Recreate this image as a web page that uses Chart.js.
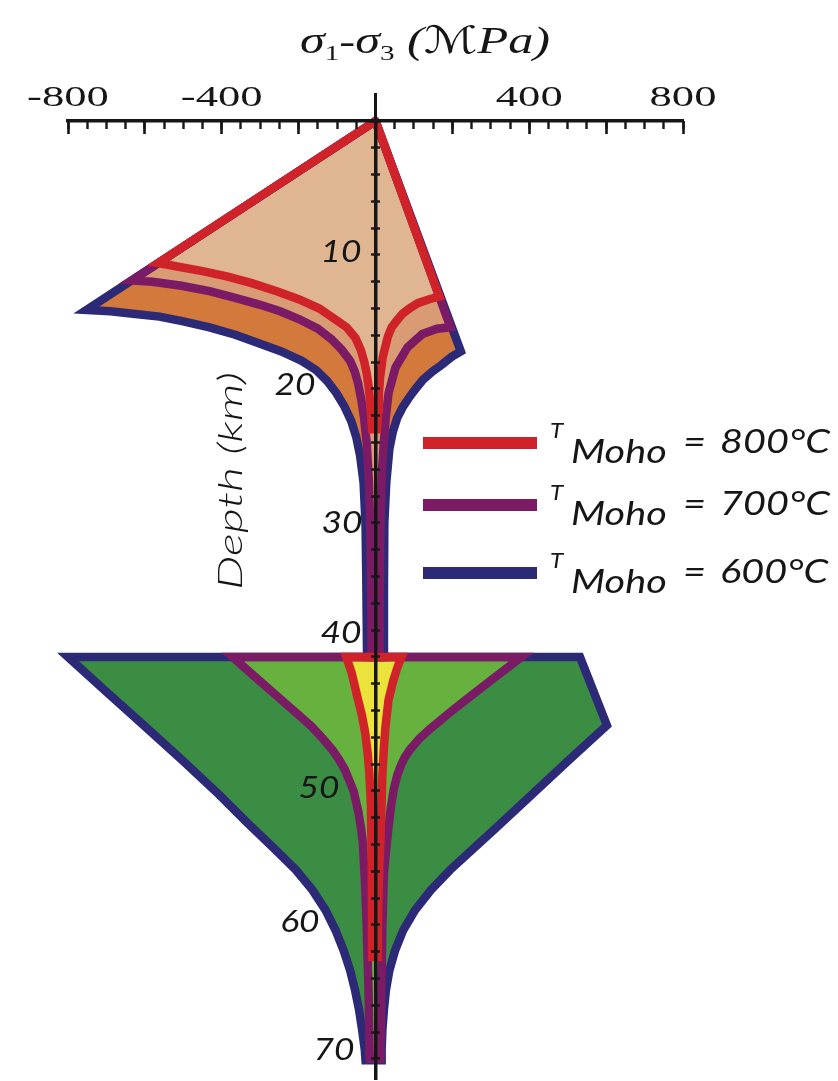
<!DOCTYPE html>
<html lang="en">
<head>
<meta charset="utf-8">
<title>Strength envelopes</title>
<script src="https://cdn.jsdelivr.net/npm/chart.js@4.4.1/dist/chart.umd.min.js"></script>
<style>
  html, body { margin: 0; padding: 0; background: #ffffff; }
  #wrap { width: 838px; height: 1081px; position: relative; }
  canvas { display: block; }
</style>
</head>
<body>
<div id="wrap"><canvas id="envelopes" width="838" height="1081"></canvas></div>
<script>
// Moho temperatures, one envelope set each (hottest first)
const mohoTemps = [800, 700, 600];
const lineColors = ['#cf2329', '#7b1b66', '#2c2a76'];
const upperFill = ['#e0b592', '#d99b73', '#d2793b'];
const lowerFill = ['#ebe33b', '#67b23f', '#3b8d44'];

// Envelope outlines: depth (km) and differential stress (MPa), traced down the
// compressional side and back up the extensional side.
const upper800Depth  = [0, 10.6, 10.9, 11.2, 11.6, 12.1, 12.7, 13.3, 14.0, 14.7, 15.4, 16.2, 17.1, 18.0, 18.8, 20.0, 21.3, 23.0,
                        23.0, 21.5, 20.3, 19.1, 17.6, 16.8, 16.1, 15.4, 14.9, 14.4, 14.0, 13.6, 13.3, 13.1, 0];
const upper800Stress = [0, -565, -509, -450, -387, -322, -257, -200, -146, -110, -75, -52, -38, -29, -23, -17, -13, -9,
                        4, 7, 9, 12, 19, 26, 32, 42, 55, 70, 88, 110, 140, 166, 0];

const upper700Depth  = [0, 11.9, 12.0, 12.3, 12.7, 13.2, 13.7, 14.2, 14.8, 15.5, 16.3, 17.1, 17.9, 18.7, 19.6, 20.8, 22.1, 24.0, 27.0, 31.0, 35.0, 40.0,
                        40.0, 35.0, 30.0, 26.0, 24.3, 22.3, 20.3, 18.4, 16.9, 15.9, 15.5, 15.4, 0];
const upper700Stress = [0, -634, -580, -505, -432, -365, -302, -248, -198, -150, -114, -87, -66, -54, -45, -37, -30, -23, -17, -13, -11, -10,
                        10, 11, 13, 17, 21, 26, 34, 52, 83, 122, 160, 195, 0];

const upper600Depth  = [0, 14.1, 14.2, 14.4, 14.6, 14.95, 15.4, 15.95, 16.6, 17.2, 17.9, 18.6, 19.4, 20.3, 21.3, 22.4, 23.6, 25.0, 27.0, 30.0, 34.0, 40.0,
                        40.0, 35.0, 30.0, 27.0, 24.5, 23.2, 22.2, 21.4, 20.7, 20.0, 19.3, 18.7, 18.2, 17.6, 17.2, 0];
const upper600Stress = [0, -752, -690, -625, -562, -500, -432, -365, -302, -245, -192, -154, -126, -102, -81, -63, -50, -40, -31, -26, -24, -22,
                        22, 22, 23, 28, 36, 45, 56, 70, 86, 104, 124, 148, 172, 198, 222, 0];

const lower800Depth  = [40, 40, 41.2, 43.0, 44.4, 45.8, 47.3, 48.7, 51.0, 55.0, 59.0, 62.4,
                        62.4, 60.0, 57.4, 55.5, 53.7, 48.7, 46.7, 45.2, 43.2, 41.7, 40.7, 40, 40];
const lower800Stress = [0, -76, -62, -47, -35, -26, -20, -16, -12, -10, -9, -9,
                        4, 6, 8, 10, 13, 18, 22, 26, 34, 47, 58, 68, 0];

const lower700Depth  = [40, 40, 41.5, 43.0, 44.1, 45.2, 46.0, 46.9, 47.6, 48.4, 50.0, 51.5, 52.7, 53.9, 56.4, 60.0, 65.0, 70.0,
                        70.0, 65.0, 60.0, 56.1, 53.7, 51.2, 49.8, 48.8, 48.1, 47.5, 46.9, 46.1, 45.4, 44.2, 43.2, 41.6, 40, 40];
const lower700Stress = [0, -372, -313, -253, -209, -166, -140, -113, -96, -80, -57, -45, -38, -33, -28, -23, -18, -15,
                        13, 15, 18, 22, 30, 40, 48, 57, 66, 76, 90, 114, 141, 191, 235, 307, 380, 0];

const lower600Depth  = [40, 40, 42.6, 45.1, 47.7, 50.3, 52.4, 54.4, 55.9, 57.4, 58.9, 60.4, 61.9, 63.4, 64.9, 66.3, 67.8, 69.3, 70.1,
                        70.1, 69.3, 67.8, 66.3, 64.9, 63.4, 61.9, 60.4, 58.9, 57.4, 55.9, 54.4, 52.9, 50.3, 47.7, 45.1, 40, 40];
const lower600Stress = [0, -800, -700, -603, -503, -406, -333, -260, -207, -164, -130, -104, -83, -66, -53, -43, -35, -28, -26,
                        16, 16, 18, 22, 27, 36, 51, 72, 103, 144, 194, 251, 308, 406, 503, 602, 532, 0];

// Axis ranges and labelled ticks
const STRESS_MIN = -800, STRESS_MAX = 800;
const DEPTH_MIN = 0, DEPTH_MAX = 71.5;
const stressLabels = [-800, -400, 400, 800];
const depthLabels = [10, 20, 30, 40, 50, 60, 70];

// Placement of the text around the plot
const depthLabelNudge = { // [right edge relative to the depth axis, vertical shift]
  10: [-14, -3], 20: [-60, -4], 30: [-13, 0], 40: [-14, -24], 50: [-36, -3], 60: [-56, -3], 70: [-21, -9]
};
const legendRowY = [443, 505, 573];

function outline(depths, stresses) {
  return depths.map((d, i) => ({ x: stresses[i], y: d }));
}

function envelope(label, depths, stresses, colorIndex, fillColor) {
  return {
    label: label,
    data: outline(depths, stresses),
    borderColor: lineColors[colorIndex],
    backgroundColor: fillColor,
    borderWidth: 8.5,
    fill: 'shape',
    pointRadius: 0,
    pointHoverRadius: 0,
    tension: 0,
    borderJoinStyle: 'miter',
    borderCapStyle: 'round',
    clip: false
  };
}

// Hottest envelope first so it is painted on top
const datasets = [
  envelope('800 upper', upper800Depth, upper800Stress, 0, upperFill[0]),
  envelope('800 lower', lower800Depth, lower800Stress, 0, lowerFill[0]),
  envelope('700 upper', upper700Depth, upper700Stress, 1, upperFill[1]),
  envelope('700 lower', lower700Depth, lower700Stress, 1, lowerFill[1]),
  envelope('600 upper', upper600Depth, upper600Stress, 2, upperFill[2]),
  envelope('600 lower', lower600Depth, lower600Stress, 2, lowerFill[2])
];

const INK = '#161616';
const SERIF = "'Liberation Serif', 'DejaVu Serif', 'DejaVu Sans', serif";
const HAND = "Lato, 'Open Sans', 'DejaVu Sans', sans-serif";

function scaleFor(ctx, sample, font, width) {
  ctx.save();
  ctx.font = font;
  const w = ctx.measureText(sample).width;
  ctx.restore();
  return w > 0 ? width / w : 1;
}

function drawStretched(ctx, text, x, y, font, sx, align, baseline) {
  ctx.save();
  ctx.font = font;
  ctx.textAlign = align;
  ctx.textBaseline = baseline;
  ctx.translate(x, y);
  ctx.scale(sx, 1);
  ctx.fillText(text, 0, 0);
  ctx.restore();
}

const annotations = {
  id: 'annotations',
  afterDraw(chart) {
    const ctx = chart.ctx;
    const xs = chart.scales.x;
    const ys = chart.scales.y;
    const x0 = xs.getPixelForValue(0);
    const yTop = ys.getPixelForValue(DEPTH_MIN);

    ctx.save();
    ctx.fillStyle = INK;

    // depth axis continues a little above the stress axis
    ctx.strokeStyle = INK;
    ctx.lineWidth = 3;
    ctx.beginPath();
    ctx.moveTo(x0, yTop);
    ctx.lineTo(x0, yTop - 28);
    ctx.stroke();

    // title
    const titleRuns = [
      { text: 'σ', font: 'italic 38px ' + SERIF, dy: 0 },
      { text: '1', font: '22px ' + SERIF, dy: 7 },
      { text: '-', font: '36px ' + SERIF, dy: 0 },
      { text: 'σ', font: 'italic 38px ' + SERIF, dy: 0 },
      { text: '3', font: '22px ' + SERIF, dy: 7 },
      { text: ' (ℳPa)', font: 'italic 38px ' + SERIF, dy: 0 }
    ];
    let raw = 0;
    titleRuns.forEach(r => { ctx.font = r.font; r.w = ctx.measureText(r.text).width; raw += r.w; });
    const tsx = 250 / raw;
    let tx = 425 - 125;
    titleRuns.forEach(r => {
      drawStretched(ctx, r.text, tx, 53 + r.dy, r.font, tsx, 'left', 'alphabetic');
      tx += r.w * tsx;
    });

    // stress tick labels
    const sFont = '29px ' + SERIF;
    const ssx = scaleFor(ctx, '800', sFont, 67);
    stressLabels.forEach(v => {
      drawStretched(ctx, String(v), xs.getPixelForValue(v), 106, sFont, ssx, 'center', 'alphabetic');
    });

    // depth tick labels
    const dFont = 'italic 31px ' + HAND;
    const dsx = scaleFor(ctx, '30', dFont, 41);
    depthLabels.forEach(v => {
      const n = depthLabelNudge[v] || [-14, 0];
      drawStretched(ctx, String(v), x0 + n[0], ys.getPixelForValue(v) + n[1], dFont, dsx, 'right', 'middle');
    });

    // depth axis title
    const aFont = 'italic 300 34px ' + HAND;
    const asx = scaleFor(ctx, 'Depth (km)', aFont, 218);
    ctx.save();
    ctx.translate(231, 481);
    ctx.rotate(-Math.PI / 2);
    drawStretched(ctx, 'Depth (km)', 0, 0, aFont, asx, 'center', 'middle');
    ctx.restore();

    // legend
    const lFont = 'italic 33px ' + HAND;
    const lsx = scaleFor(ctx, '800°C', lFont, 110);
    mohoTemps.forEach((t, i) => {
      const yRow = legendRowY[i];
      ctx.save();
      ctx.fillStyle = lineColors[i];
      ctx.fillRect(423, yRow - 6, 114, 12);
      ctx.restore();
      drawStretched(ctx, 'T', 550, yRow - 5, 'italic 22px ' + HAND, 1.1, 'left', 'alphabetic');
      drawStretched(ctx, 'Moho', 571, yRow + 20, lFont, lsx, 'left', 'alphabetic');
      drawStretched(ctx, '=', 683, yRow + 10, lFont, lsx, 'left', 'alphabetic');
      drawStretched(ctx, t + '°C', 720, yRow + 10, lFont, lsx, 'left', 'alphabetic');
    });

    ctx.restore();
  }
};

function axisBase(extra) {
  return Object.assign({ type: 'linear', display: true }, extra);
}

function build() {
  const ctx = document.getElementById('envelopes').getContext('2d');
  new Chart(ctx, {
    type: 'line',
    data: { datasets: datasets },
    plugins: [annotations],
    options: {
      responsive: false,
      animation: false,
      devicePixelRatio: 1,
      events: [],
      layout: { padding: { left: 68, right: 155, top: 121, bottom: 2 } },
      plugins: {
        legend: { display: false },
        tooltip: { enabled: false },
        title: { display: false },
        filler: { drawTime: 'beforeDatasetsDraw', propagate: false }
      },
      scales: {
        x: axisBase({
          min: STRESS_MIN, max: STRESS_MAX, position: { y: 0 },
          border: { display: true, width: 3.5, color: INK, z: 1 },
          grid: { display: true, drawOnChartArea: false, drawTicks: false, z: 1 },
          ticks: { display: false, stepSize: 400 }
        }),
        xMinor: axisBase({
          axis: 'x', min: STRESS_MIN, max: STRESS_MAX, position: { y: 0 },
          border: { display: false },
          grid: { display: true, drawOnChartArea: false, drawTicks: true, tickLength: 8, tickWidth: 2.4, tickColor: INK, z: 1 },
          ticks: { display: false, stepSize: 50 }
        }),
        xMajor: axisBase({
          axis: 'x', min: STRESS_MIN, max: STRESS_MAX, position: { y: 0 },
          border: { display: false },
          grid: { display: true, drawOnChartArea: false, drawTicks: true, tickLength: 13, tickWidth: 2.6, tickColor: INK, z: 1 },
          ticks: { display: false, stepSize: 200 }
        }),
        y: axisBase({
          reverse: true, min: DEPTH_MIN, max: DEPTH_MAX, position: { x: 0 },
          border: { display: true, width: 3.5, color: INK, z: 1 },
          grid: { display: true, drawOnChartArea: false, drawTicks: false, z: 1 },
          ticks: { display: false, stepSize: 10, includeBounds: false }
        }),
        yTicks: axisBase({
          axis: 'y', reverse: true, min: DEPTH_MIN, max: DEPTH_MAX, position: { x: 11 },
          border: { display: false },
          grid: { display: true, drawOnChartArea: false, drawTicks: true, tickLength: 9, tickWidth: 2.4, tickColor: INK, z: 1 },
          ticks: { display: false, stepSize: 2, includeBounds: false }
        })
      }
    }
  });
}

const fontsToLoad = ['italic 31px Lato', 'italic 300 34px Lato', '29px "Liberation Serif"', 'italic 38px "Liberation Serif"'];
Promise.all(fontsToLoad.map(f => document.fonts.load(f))).catch(() => null).then(build);
</script>
</body>
</html>
